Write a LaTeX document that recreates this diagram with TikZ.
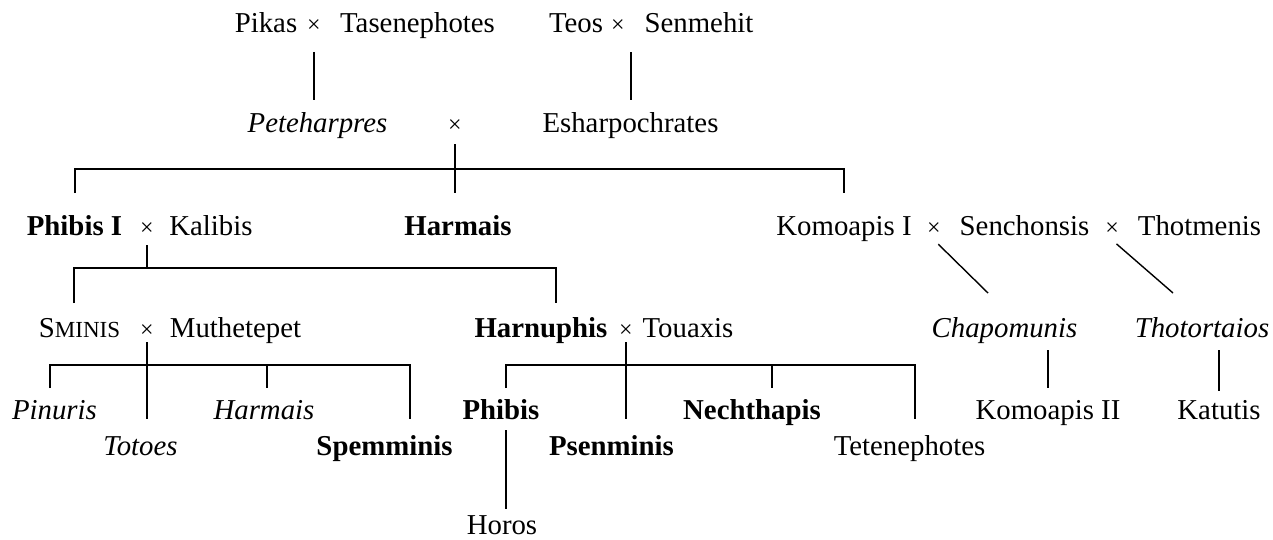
\documentclass[tikz,border=0pt]{standalone}
\usepackage{fontspec}
\setmainfont{Liberation Serif}

\begin{document}
\begin{tikzpicture}[x=0.5pt,y=-0.5pt,line width=1pt,
		main node/.style={anchor=base,inner sep=0pt,outer sep=0pt,text height=9.5pt,text depth=2.5pt,font=\fontsize{14.4}{17}\selectfont},
		bold node/.style={main node,font=\fontsize{14.4}{17}\selectfont\bfseries},
		ital node/.style={main node,font=\fontsize{14.4}{17}\selectfont\itshape},
		wed node/.style={main node,font=\fontsize{12}{14}\selectfont},
		thin line/.style={line width=0.7pt}]
		
		\useasboundingbox (0,0) rectangle (1273,540);
		
		% first generation
		\node[main node] (pikas) at (266,33) {Pikas};
		\node[wed node] (w1) at (314,33) {×};
		\node[main node] (tasen) at (417.5,33) {Tasenephotes};
		\node[main node] (teos) at (576,33) {Teos};
		\node[wed node] (w2) at (618,33) {×};
		\node[main node] (senme) at (699,33) {Senmehit};
		
		% second generation
		\node[ital node] (petes) at (317.5,133) {Peteharpres};
		\node[wed node] (w3) at (455,133) {×};
		\node[main node] (eshar) at (630.5,133) {Esharpochrates};
		
		% third generation
		\node[bold node] (phibI) at (74.5,235) {Phibis I};
		\node[wed node] (w4) at (147,235) {×};
		\node[main node] (kalib) at (211,235) {Kalibis};
		\node[bold node] (harmI) at (458,235) {Harmais};
		\node[main node] (komI) at (844,235) {Komoapis I};
		\node[wed node] (w5) at (934,235) {×};
		\node[main node] (sench) at (1024.5,235) {Senchonsis};
		\node[wed node] (w6) at (1112,235) {×};
		\node[main node] (thotm) at (1199.5,235) {Thotmenis};
		
		% fourth generation
		\node[main node] (smin) at (79.5,337) {S{\fontsize{11.5}{14}\selectfont MINIS}};
		\node[wed node] (w7) at (147,337) {×};
		\node[main node] (muthe) at (235.5,337) {Muthetepet};
		\node[bold node] (harnu) at (541,337) {Harnuphis};
		\node[wed node] (w8) at (626,337) {×};
		\node[main node] (touax) at (688,337) {Touaxis};
		\node[ital node] (chapo) at (1004.5,337) {Chapomunis};
		\node[ital node] (thoto) at (1202,337) {Thotortaios};
		
		% fifth generation
		\node[ital node] (pinur) at (54.5,419) {Pinuris};
		\node[ital node] (totoe) at (140.5,455) {Totoes};
		\node[ital node] (harmII) at (264,419) {Harmais};
		\node[bold node] (spemm) at (384.5,455) {Spemminis};
		\node[bold node] (phib) at (501,419) {Phibis};
		\node[bold node] (psenm) at (611.5,455) {Psenminis};
		\node[bold node] (necht) at (752,419) {Nechthapis};
		\node[main node] (teten) at (909.5,455) {Tetenephotes};
		\node[main node] (komII) at (1048,419) {Komoapis II};
		\node[main node] (katut) at (1219,419) {Katutis};
		\node[main node] (horos) at (502,534) {Horos};
		
		% bars
		\coordinate (bar1) at (455,169);
		\coordinate (bar2) at (147,268);
		\coordinate (t2a) at (74,268);
		\coordinate (t2b) at (556,268);
		\coordinate (t3a) at (50,365);
		\coordinate (t3b) at (267,365);
		\coordinate (t3c) at (410,365);
		\coordinate (t4a) at (506,365);
		\coordinate (t4b) at (772,365);
		\coordinate (t4c) at (915,365);
		\coordinate (d1) at (988,293);
		\coordinate (d2) at (1173,293);
		
		\path[shorten <=7pt,shorten >=7pt]
		(w1.south) edge (w1.south |- petes.north)
		(eshar.north) edge (eshar.north |- w2.south);
		
		\draw[shorten <=3pt,shorten >=11.5pt] (w3.south) -- (w3.south |- harmI.north);
		\draw[shorten <=11.5pt,shorten >=11.5pt] (phibI.north) -- (phibI.north |- bar1) -- (komI.north |- bar1) -- (komI.north);
		
		\draw[shorten <=2.5pt] (w4.south) -- (bar2);
		\draw[shorten <=7.5pt,shorten >=7.5pt] (t2a |- smin.north) -- (t2a) -- (t2b) -- (t2b |- harnu.north);
		
		\draw[shorten >=8.5pt] (w7.south) -- (w7.south |- totoe.north);
		\draw[shorten <=6pt,shorten >=8.5pt] (t3a |- pinur.north) -- (t3a) -- (t3c) -- (t3c |- spemm.north);
		\draw[shorten >=6pt] (t3b) -- (t3b |- harmII.north);
		
		\draw[shorten >=8.5pt] (w8.south) -- (w8.south |- psenm.north);
		\draw[shorten <=6pt,shorten >=8.5pt] (t4a |- phib.north) -- (t4a) -- (t4c) -- (t4c |- teten.north);
		\draw[shorten >=6pt] (t4b) -- (t4b |- necht.north);
		\draw[shorten <=3pt,shorten >=3pt] (t4a |- phib.south) -- (t4a |- horos.north);
		
		\path[thin line,shorten <=3pt]
		(w5.south) edge (d1)
		(w6.south) edge (d2);
		\path[shorten <=4pt,shorten >=6pt]
		(komII.north |- chapo.south) edge (komII.north);
		\path[thin line,shorten <=4pt,shorten >=4.5pt]
		(katut.north |- thoto.south) edge (katut.north);
\end{tikzpicture}
\end{document}
